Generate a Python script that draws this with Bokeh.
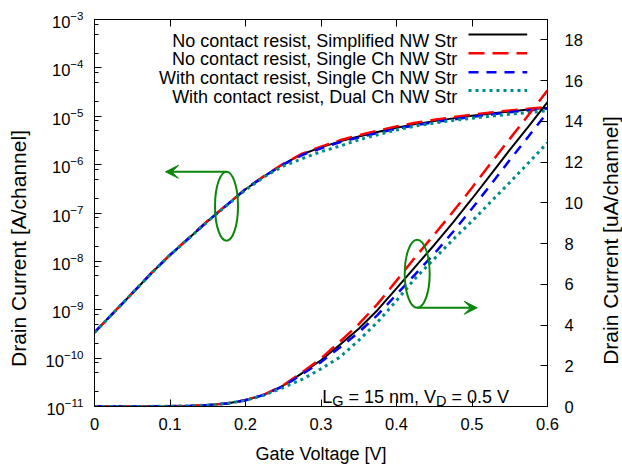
import math
from bokeh.plotting import figure
from bokeh.models import (Range1d, LinearAxis, LinearScale, FixedTicker, Label, Arrow, VeeHead,
                          LogTickFormatter, CustomJSTickFormatter)
from bokeh.embed import file_html
from bokeh.resources import INLINE

# ---------------- data (drain current in uA/channel) ----------------
gate_voltage = [0.0, 0.025, 0.05, 0.075, 0.1, 0.125, 0.15, 0.175, 0.2, 0.225, 0.25,
                0.275, 0.3, 0.325, 0.35, 0.375, 0.4, 0.425, 0.45, 0.475, 0.5,
                0.525, 0.55, 0.575, 0.6]
simplified_nw = [3.4e-4, 8.6e-4, 2.2e-3, 5.6e-3, 1.35e-2, 3.0e-2, 6.8e-2, 0.145, 0.31,
                 0.58, 1.02, 1.64, 2.27, 3.03, 3.82, 4.74, 5.80, 6.87, 7.93, 9.04,
                 10.2, 11.4, 12.6, 13.75, 14.95]
single_ch_no_rc = [3.4e-4, 8.7e-4, 2.2e-3, 5.7e-3, 1.37e-2, 3.05e-2, 6.9e-2, 0.147, 0.315,
                   0.59, 1.04, 1.68, 2.36, 3.18, 4.04, 5.04, 6.18, 7.34, 8.44, 9.57,
                   10.74, 11.95, 13.14, 14.32, 15.52]
single_ch_rc = [3.4e-4, 8.6e-4, 2.2e-3, 5.6e-3, 1.35e-2, 3.0e-2, 6.8e-2, 0.145, 0.31,
                0.575, 1.0, 1.58, 2.18, 2.9, 3.64, 4.5, 5.5, 6.5, 7.5, 8.58,
                9.72, 10.9, 12.1, 13.27, 14.45]
dual_ch_rc = [3.4e-4, 8.6e-4, 2.2e-3, 5.6e-3, 1.35e-2, 3.0e-2, 6.7e-2, 0.143, 0.30,
              0.56, 0.93, 1.33, 1.85, 2.42, 3.25, 4.15, 5.2, 6.3, 7.25, 8.2,
              9.1, 10.05, 11.0, 11.97, 12.95]

series_names = ["No contact resist, Simplified NW Str",
                "No contact resist, Single Ch NW Str",
                "With contact resist, Single Ch NW Str",
                "With contact resist, Dual Ch NW Str"]

x_ticks = [0.0, 0.1, 0.2, 0.3, 0.4, 0.5, 0.6]
x_tick_labels = ["0", "0.1", "0.2", "0.3", "0.4", "0.5", "0.6"]
log_exponents = [-11, -10, -9, -8, -7, -6, -5, -4, -3]
lin_ticks = [0, 2, 4, 6, 8, 10, 12, 14, 16, 18]

x_label = "Gate Voltage [V]"
y_label_left = "Drain Current [A/channel]"
y_label_right = "Drain Current [uA/channel]"
condition_parts = [("L", False), ("G", True), (" = 15 nm, V", False), ("D", True), (" = 0.5 V", False)]

# ---------------- styles ----------------
FONT = "Liberation Sans"
GREEN = "#0a860a"
series_styles = [
    dict(color="black", line_width=2, line_dash="solid"),
    dict(color="#ff0000", line_width=2.5, line_dash="16 8"),
    dict(color="#0000ff", line_width=2.5, line_dash="10 8"),
    dict(color="#008b8b", line_width=3, line_dash="3 4"),
]
YLABEL_FS = 21

# frame geometry in canvas pixels (used to place annotations)
FL, FT, FW, FH = 94, 19, 453, 387
XMAX, LMAX = 0.6, 19.0


def X(px):
    return XMAX * (px - FL) / FW


def Y(py):
    return LMAX * (FT + FH - py) / FH


ARIAL = {' ': 278, '=': 584, '1': 556, '5': 556, '0': 556, '.': 278, ',': 278, 'n': 556,
         'm': 833, 'V': 667, 'L': 556, 'G': 778, 'D': 722}


def text_width(s, fs):
    return sum(ARIAL.get(c, 556) for c in s) * fs / 1000.0


p = figure(width=622, height=466, x_range=Range1d(0, XMAX), y_range=Range1d(1e-11, 1e-3),
           y_axis_type="log", output_backend="svg", toolbar_location=None,
           min_border_left=FL, min_border_right=622 - FL - FW, min_border_top=FT,
           min_border_bottom=466 - FT - FH)
p.extra_y_ranges = {"lin": Range1d(0, LMAX)}
p.extra_y_scales = {"lin": LinearScale()}
p.grid.visible = False
p.outline_line_color = "black"
p.outline_line_width = 1
p.background_fill_color = "white"
p.border_fill_color = "white"

xa = p.xaxis[0]
xa.ticker = FixedTicker(ticks=x_ticks, minor_ticks=[])
xa.major_label_overrides = {t: s for t, s in zip(x_ticks, x_tick_labels)}
xa.major_label_standoff = 11
xa.axis_label = x_label
xa.axis_label_standoff = 11
xa.axis_label_text_font_size = "18px"

ya = p.yaxis[0]
ya.ticker = FixedTicker(ticks=[10.0 ** e for e in log_exponents],
                        minor_ticks=[m * 10.0 ** e for e in log_exponents[:-1] for m in (2, 5, 8)])
ya.formatter = LogTickFormatter()
ya.major_label_standoff = 11

ra = LinearAxis(y_range_name="lin", ticker=FixedTicker(ticks=lin_ticks, minor_ticks=[]))
ra.major_label_standoff = 17
p.add_layout(ra, "right")

ta = LinearAxis(ticker=FixedTicker(ticks=x_ticks, minor_ticks=[]),
                formatter=CustomJSTickFormatter(code="return ''"))
ta.major_label_standoff = 0
p.add_layout(ta, "above")

for ax in (xa, ya, ra, ta):
    ax.axis_line_color = "black"
    ax.axis_line_width = 1
    ax.major_tick_line_color = "black"
    ax.minor_tick_line_color = "black"
    ax.major_tick_in = 7
    ax.major_tick_out = 0
    ax.minor_tick_in = 4
    ax.minor_tick_out = 0
    ax.major_label_text_font = FONT
    ax.major_label_text_font_size = "16.5px"
    ax.major_label_text_color = "black"
    ax.axis_label_text_font = FONT
    ax.axis_label_text_font_style = "normal"
    ax.axis_label_text_color = "black"

# vertical axis titles (both read bottom to top, placed a bit below the frame centre)
p.add_layout(Label(x=X(17.5), y=Y(248), y_range_name="lin", text=y_label_left,
                   angle=math.pi / 2, text_align="center", text_baseline="middle",
                   text_font=FONT, text_font_size=f"{YLABEL_FS}px", text_color="black"),
             "left")
p.add_layout(Label(x=X(610), y=Y(240), y_range_name="lin", text=y_label_right,
                   angle=math.pi / 2, text_align="center", text_baseline="middle",
                   text_font=FONT, text_font_size=f"{YLABEL_FS}px", text_color="black"),
             "right")

# ---------------- curves ----------------
all_series = [simplified_nw, single_ch_no_rc, single_ch_rc, dual_ch_rc]
for vals, st in zip(all_series, series_styles):
    p.line(gate_voltage, [v * 1e-6 for v in vals], **st)          # log axis, A/channel
for vals, st in zip(all_series, series_styles):
    p.line(gate_voltage, vals, y_range_name="lin", **st)         # linear axis, uA/channel

# ---------------- green callouts ----------------
p.ellipse(x=[X(226)], y=[Y(205.7)], width=23, height=69, width_units="screen",
          height_units="screen", fill_color=None, line_color=GREEN, line_width=2,
          y_range_name="lin")
p.ellipse(x=[X(416.7)], y=[Y(273.3)], width=25, height=68, width_units="screen",
          height_units="screen", fill_color=None, line_color=GREEN, line_width=2,
          y_range_name="lin")
p.add_layout(Arrow(x_start=X(226), y_start=Y(171.3), x_end=X(165), y_end=Y(171.3),
                   y_range_name="lin", line_color=GREEN, line_width=2, start=None,
                   end=VeeHead(size=13, fill_color=GREEN, line_color=GREEN)))
p.add_layout(Arrow(x_start=X(416.7), y_start=Y(307.3), x_end=X(476.7), y_end=Y(307.3),
                   y_range_name="lin", line_color=GREEN, line_width=2, start=None,
                   end=VeeHead(size=13, fill_color=GREEN, line_color=GREEN)))

# ---------------- legend (right-aligned text, sample on the right) ----------------
leg_text_baselines = [40, 58.7, 77.3, 96]
leg_line_ys = [34, 52.7, 71.7, 90]
for name, st, tb, ly in zip(series_names, series_styles, leg_text_baselines, leg_line_ys):
    p.add_layout(Label(x=X(456.7), y=Y(tb), y_range_name="lin", text=name,
                       text_align="right", text_baseline="alphabetic", text_font=FONT,
                       text_font_size="18px", text_color="black"))
    p.add_layout(Arrow(x_start=X(468), y_start=Y(ly), x_end=X(526.7), y_end=Y(ly),
                       y_range_name="lin", start=None, end=None, line_color=st["color"],
                       line_width=st["line_width"], line_dash=st["line_dash"]))

# ---------------- condition text with subscripts ----------------
MAIN_FS, SUB_FS = 18.0, 14.5
off = 0.0
for txt, sub in condition_parts:
    fs = SUB_FS if sub else MAIN_FS
    stripped = txt.lstrip(" ")
    off += text_width(txt[:len(txt) - len(stripped)], fs)
    p.add_layout(Label(x=X(321.7), y=Y(400.5) if sub else Y(396.7), x_offset=off,
                       y_range_name="lin", text=stripped, text_align="left",
                       text_baseline="alphabetic", text_font=FONT,
                       text_font_size=f"{fs}px", text_color="black"))
    off += text_width(stripped, fs)

open("out.html", "w").write(file_html(p, INLINE))
